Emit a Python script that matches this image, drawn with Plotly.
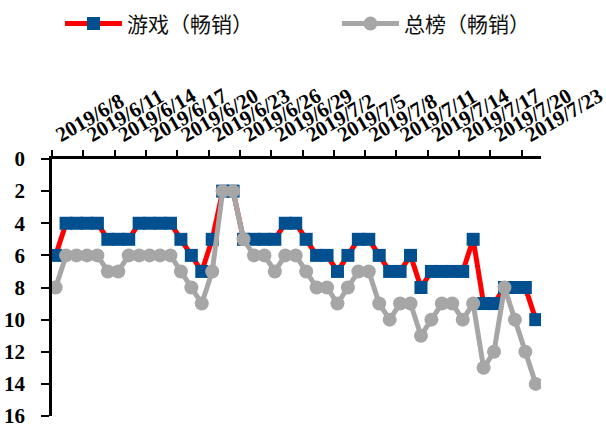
import datetime as dt
import plotly.graph_objects as go

# Daily dates 2019/6/8 .. 2019/7/24
start = dt.date(2019, 6, 8)
n_days = 47
dates = [start + dt.timedelta(days=i) for i in range(n_days)]
date_labels = [f"{d.year}/{d.month}/{d.day}" for d in dates]

# Ranking (lower is better)
game_rank = [6, 4, 4, 4, 4, 5, 5, 5, 4, 4, 4, 4, 5, 6, 7, 5, 2, 2, 5, 5,
             5, 5, 4, 4, 5, 6, 6, 7, 6, 5, 5, 6, 7, 7, 6, 8, 7, 7, 7, 7,
             5, 9, 9, 8, 8, 8, 10]
overall_rank = [8, 6, 6, 6, 6, 7, 7, 6, 6, 6, 6, 6, 7, 8, 9, 7, 2, 2, 5, 6,
                6, 7, 6, 6, 7, 8, 8, 9, 8, 7, 7, 9, 10, 9, 9, 11, 10, 9, 9, 10,
                9, 13, 12, 8, 10, 12, 14]

series_names = ["游戏（畅销）", "总榜（畅销）"]
y_ticks = list(range(0, 17, 2))

x = list(range(n_days))
label_idx = list(range(0, n_days, 3))

fig = go.Figure()
fig.add_trace(go.Scatter(
    x=x, y=game_rank, name=series_names[0], mode="lines+markers",
    line=dict(color="#FF0000", width=5),
    marker=dict(symbol="square", size=13, color="#00508F"),
    legend="legend",
))
fig.add_trace(go.Scatter(
    x=x, y=overall_rank, name=series_names[1], mode="lines+markers",
    line=dict(color="#A6A6A6", width=5),
    marker=dict(symbol="circle", size=14, color="#A6A6A6"),
    legend="legend2",
))

legend_font = dict(family="Noto Sans CJK SC", size=21, color="#111111")
legend_common = dict(
    orientation="h", xref="container", yref="container",
    xanchor="left", yanchor="middle", y=0.944,
    font=legend_font, itemwidth=57, bgcolor="rgba(0,0,0,0)",
)

fig.update_layout(
    width=606, height=428,
    margin=dict(l=52, r=65, t=159, b=12, autoexpand=False),
    paper_bgcolor="white", plot_bgcolor="white",
    showlegend=True,
    legend=dict(x=0.099, **legend_common),
    legend2=dict(x=0.556, **legend_common),
    xaxis=dict(
        side="top", range=[-0.35, 46.5],
        tickmode="array", tickvals=[x[i] for i in label_idx],
        ticktext=[date_labels[i] for i in label_idx],
        tickangle=-30, ticks="", ticklabelstandoff=4,
        ticklabeloverflow="allow",
        tickfont=dict(family="Liberation Serif", size=21, color="black", weight="bold"),
        showline=True, linecolor="black", linewidth=2.5,
        showgrid=False, zeroline=False,
        minor=dict(tickmode="array", tickvals=[i - 0.35 for i in label_idx],
                   ticks="outside", ticklen=6, tickwidth=2, tickcolor="black",
                   showgrid=False),
    ),
    yaxis=dict(
        range=[16, 0], tickmode="array", tickvals=y_ticks,
        ticks="outside", ticklen=8, tickwidth=2, tickcolor="black",
        ticklabelstandoff=12, ticklabeloverflow="allow",
        tickfont=dict(family="Liberation Serif", size=21, color="black", weight="bold"),
        showline=True, linecolor="black", linewidth=2.5,
        showgrid=False, zeroline=False,
    ),
)

fig.write_html("out.html")
